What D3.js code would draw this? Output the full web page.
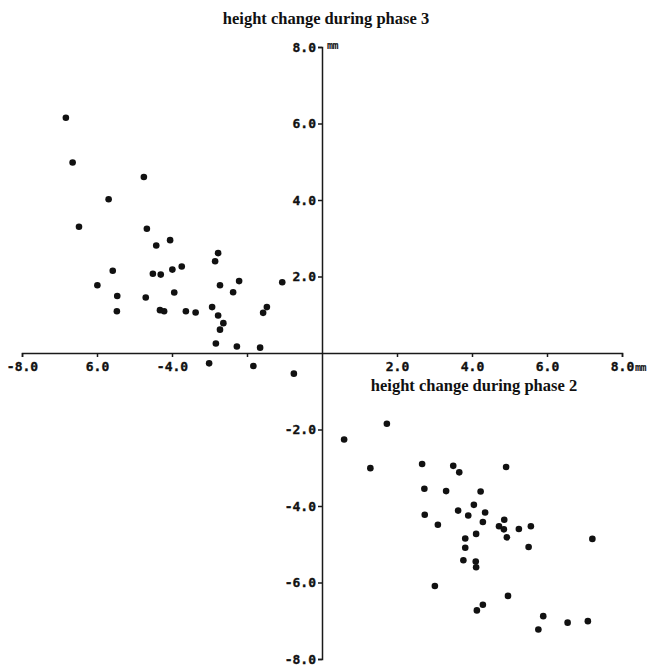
<!DOCTYPE html>
<html>
<head>
<meta charset="utf-8">
<script src="https://cdn.jsdelivr.net/npm/d3@7"></script>
<style>
  body { margin: 0; background: #fff; }
  .tick text { font-family: "DejaVu Sans Mono", monospace; font-weight: bold; font-size: 13px; fill: #111; stroke: #111; stroke-width: 0.35px; }
  .title { font-family: "Liberation Serif", "Times New Roman", serif; font-weight: bold; font-size: 16.5px; fill: #111; }
  .unit { font-family: "DejaVu Sans Mono", monospace; font-weight: bold; font-size: 10px; fill: #111; letter-spacing: -0.5px; }
</style>
</head>
<body>
<div id="chart"></div>
<script>
const svgWidth = 653;
const svgHeight = 665;

// tick values and their printed labels (as in the original figure)
const tickValues = [-8, -6, -4, -2, 2, 4, 6, 8];
const xTickLabels = ["-8.0", "6.0", "-4.0", "", "2.0", "4.0", "6.0", "8.0"];
const yTickLabels = ["-8.0", "-6.0", "-4.0", "-2.0", "2.0", "4.0", "6.0", "8.0"];

// height change during phase 2 (x) vs phase 3 (y), upper-left cluster
const groupA_x = [-6.83, -6.65, -6.48, -5.69, -4.75, -4.67, -4.42, -4.05, -5.58, -5.99,
  -5.46, -5.47, -4.70, -4.51, -4.30, -3.99, -3.74, -3.94, -4.32, -4.21,
  -3.63, -3.37, -2.77, -2.85, -2.72, -2.21, -2.37, -2.93, -2.77, -2.63,
  -2.72, -2.83, -2.27, -1.65, -1.57, -1.47, -1.06, -3.01, -1.83, -0.75];
const groupA_y = [6.15, 4.98, 3.30, 4.02, 4.60, 3.25, 2.81, 2.95, 2.15, 1.77,
  1.49, 1.09, 1.45, 2.07, 2.05, 2.18, 2.26, 1.58, 1.12, 1.09,
  1.09, 1.06, 2.61, 2.40, 1.77, 1.88, 1.59, 1.20, 0.98, 0.78,
  0.61, 0.25, 0.17, 0.14, 1.05, 1.20, 1.85, -0.27, -0.34, -0.54];

// lower-right cluster
const groupB_x = [0.59, 1.73, 1.29, 2.67, 3.50, 3.66, 4.91, 2.73, 3.31, 4.23,
  2.74, 3.09, 3.63, 4.05, 3.90, 4.35, 4.29, 4.72, 4.86, 4.85,
  5.25, 5.57, 4.11, 3.82, 4.93, 3.82, 5.51, 7.21, 3.77, 4.10,
  4.11, 3.01, 4.96, 4.29, 4.13, 5.90, 5.77, 6.55, 7.09];
const groupB_y = [-2.26, -1.85, -3.01, -2.90, -2.95, -3.12, -2.98, -3.55, -3.61, -3.62,
  -4.23, -4.49, -4.12, -3.97, -4.25, -4.17, -4.42, -4.53, -4.36, -4.61,
  -4.60, -4.53, -4.73, -4.85, -4.82, -5.09, -5.07, -4.86, -5.42, -5.45,
  -5.60, -6.09, -6.35, -6.58, -6.73, -6.88, -7.23, -7.05, -7.01];

const points = groupA_x.map((x, i) => ({ x: x, y: groupA_y[i] }))
  .concat(groupB_x.map((x, i) => ({ x: x, y: groupB_y[i] })));

const svg = d3.select("#chart")
  .append("svg")
  .attr("width", svgWidth)
  .attr("height", svgHeight);

const xScale = d3.scaleLinear().domain([-8, 8]).range([22, 622]);
const yScale = d3.scaleLinear().domain([-8, 8]).range([659, 47]);

// x axis through y = 0
const xAxis = svg.append("g")
  .attr("transform", `translate(0, ${yScale(0)})`)
  .call(d3.axisBottom(xScale)
    .tickValues(tickValues)
    .tickSize(4)
    .tickPadding(5)
    .tickFormat((d, i) => xTickLabels[i]));

// y axis through x = 0
const yAxis = svg.append("g")
  .attr("transform", `translate(${xScale(0)}, 0)`)
  .call(d3.axisLeft(yScale)
    .tickValues(tickValues)
    .tickSize(4)
    .tickPadding(2)
    .tickFormat((d, i) => yTickLabels[i]));

svg.selectAll(".domain, .tick line")
  .attr("stroke", "#1a1a1a")
  .attr("stroke-width", 1.5);

// units
svg.append("text").attr("class", "unit")
  .attr("x", xScale(8) + 13).attr("y", yScale(0) + 18).text("mm");
svg.append("text").attr("class", "unit")
  .attr("x", xScale(0) + 5).attr("y", yScale(8) + 2).text("mm");

// axis titles
svg.append("text").attr("class", "title")
  .attr("x", 326).attr("y", 24)
  .attr("text-anchor", "middle")
  .text("height change during phase 3");

svg.append("text").attr("class", "title")
  .attr("x", 474).attr("y", 391)
  .attr("text-anchor", "middle")
  .text("height change during phase 2");

// points
svg.append("g")
  .selectAll("circle")
  .data(points)
  .enter()
  .append("circle")
  .attr("cx", d => xScale(d.x))
  .attr("cy", d => yScale(d.y))
  .attr("r", 3.3)
  .attr("fill", "#111");
</script>
</body>
</html>
